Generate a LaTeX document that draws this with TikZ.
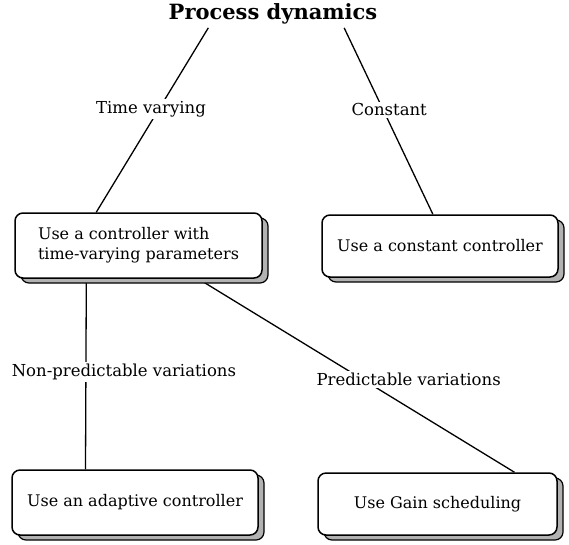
\documentclass[tikz,border=0pt]{standalone}
\usepackage{fontspec}
\setmainfont{DejaVu Serif}
\usetikzlibrary{calc, shadows, backgrounds}

\tikzset{
  choice/.style={draw, line width=1.5pt, fill=white, rounded corners=8pt, align=left,
    font=\fontsize{16}{20}\selectfont,
    copy shadow={shadow xshift=6pt, shadow yshift=-5pt, fill=gray!60, draw=black, line width=1.2pt}},
  branch/.style={fill=white, inner sep=2pt, font=\fontsize{16.5}{19}\selectfont},
}

\begin{document}
\begin{tikzpicture}[x=1pt, y=-1pt]
  \useasboundingbox (0,0) rectangle (569,544);

  \node[font=\fontsize{21}{24}\selectfont\bfseries] (dyn) at (273,14) {Process dynamics};

  \node[choice, minimum width=247pt, minimum height=65pt] (vary) at (138.5,245.5)
    {Use a controller with\\time-varying parameters};
  \node[choice, minimum width=236pt, minimum height=62pt] (const) at (440,246)
    {Use a constant controller};
  \node[choice, minimum width=246pt, minimum height=65pt] (adapt) at (135,502.5)
    {Use an adaptive controller};
  \node[choice, minimum width=239pt, minimum height=62pt] (gain) at (437.5,504)
    {Use Gain scheduling};

  % connectors sit behind the boxes
  \begin{scope}[on background layer={line width=1.3pt}]
    \draw ($(dyn.south west)!0.2!(dyn.south east)$)
      -- node[branch, pos=0.44, xshift=-8pt] (tv) {Time varying}
      ($(vary.north west)!0.33!(vary.north east)$);
    \draw ($(dyn.south west)!0.83!(dyn.south east)$)
      -- node[branch, pos=0.44, xshift=6pt] (ct) {Constant}
      ($(const.north west)!0.47!(const.north east)$);
    \draw ($(vary.south west)!0.29!(vary.south east)$)
      -- node[branch, pos=0.49, xshift=38pt] (np) {Non-predictable variations}
      ($(adapt.north west)!0.3!(adapt.north east)$);
    \draw ($(vary.south west)!0.74!(vary.south east)$)
      -- node[branch, pos=0.52, xshift=46pt] (pv) {Predictable variations}
      ($(gain.north west)!0.82!(gain.north east)$);
  \end{scope}
\end{tikzpicture}
\end{document}
